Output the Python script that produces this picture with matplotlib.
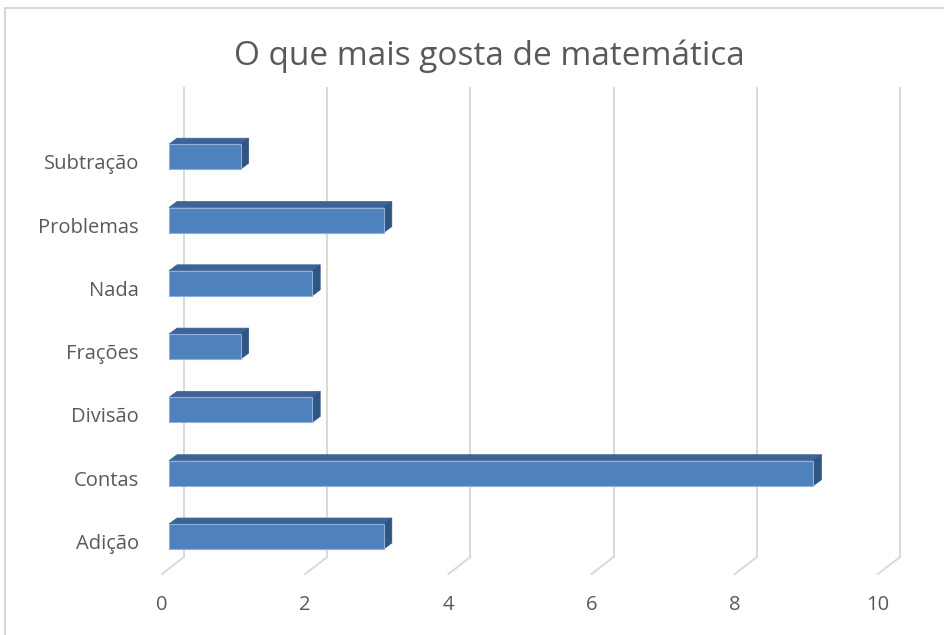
import matplotlib.pyplot as plt
from matplotlib.patches import Rectangle, Polygon

# dados
categorias = ['Adição', 'Contas', 'Divisão', 'Frações', 'Nada', 'Problemas', 'Subtração']
valores = [3, 9, 2, 1, 2, 3, 1]
ticks_x = [0, 2, 4, 6, 8, 10]
titulo = 'O que mais gosta de matemática'

# estilo
cor_frente = '#4f81bd'
cor_topo = '#3c6394'
cor_lado = '#2f5582'
cor_grade = '#d9d9d9'
cor_texto = '#595959'
plt.rcParams['font.family'] = ['Open Sans', 'DejaVu Sans']

W, H = 944, 635
fig = plt.figure(figsize=(W / 100, H / 100), dpi=100)

# escala em pixels: x=0 em 169px, 71.6px por unidade; categoria 0 em 536.5px, 63.3px por categoria
px_x, x0 = 71.6, 169
px_y, y0 = 63.3, 536.5
a0, a1, top, bot = 140, 930, 70, 630
ax = fig.add_axes([a0 / W, 1 - bot / H, (a1 - a0) / W, (bot - top) / H])
ax.set_xlim((a0 - x0) / px_x, (a1 - x0) / px_x)
ax.set_ylim((y0 - bot) / px_y, (y0 - top) / px_y)
ax.axis('off')

# profundidade 3D
h = 25 / px_y
dx, dy = 8 / px_x, 6 / px_y
parede_x = 15 / px_x
chao_x = -7 / px_x
chao_tras = (y0 - 557) / px_y
chao_frente = (y0 - 574) / px_y
grade_topo = (y0 - 88) / px_y

for g in ticks_x:
    ax.plot([g + parede_x, g + parede_x], [chao_tras, grade_topo], color=cor_grade, lw=1.4, zorder=1)
    ax.plot([g + parede_x, g + chao_x], [chao_tras, chao_frente], color=cor_grade, lw=1.4, zorder=1)
    ax.text(g + chao_x, (y0 - 605) / px_y, str(g), ha='center', va='center',
            fontsize=14.5, color=cor_texto)

for i, (cat, v) in enumerate(zip(categorias, valores)):
    b, t = i - h / 2, i + h / 2
    ax.add_patch(Polygon([(0, t), (v, t), (v + dx, t + dy), (dx, t + dy)],
                         closed=True, fc=cor_topo, ec=cor_topo, lw=0.5, zorder=3))
    ax.add_patch(Polygon([(v, b), (v + dx, b + dy), (v + dx, t + dy), (v, t)],
                         closed=True, fc=cor_lado, ec=cor_lado, lw=0.5, zorder=3))
    ax.add_patch(Rectangle((0, b), v, h, fc=cor_frente, ec='#8eb0dc', lw=0.8, zorder=4))
    ax.text((139 - x0) / px_x, i - 7.5 / px_y, cat, ha='right', va='center',
            fontsize=14.5, color=cor_texto)

fig.text(489 / W, 1 - 56 / H, titulo, ha='center', va='center', fontsize=24, color=cor_texto)

# borda do gráfico
fig.add_artist(Rectangle((5 / W, -0.01), 1, 1 - 8 / H + 0.01, transform=fig.transFigure,
                         fill=False, ec='#d0d0d0', lw=1.2))

fig.savefig('out.png', dpi=100, facecolor='white')
